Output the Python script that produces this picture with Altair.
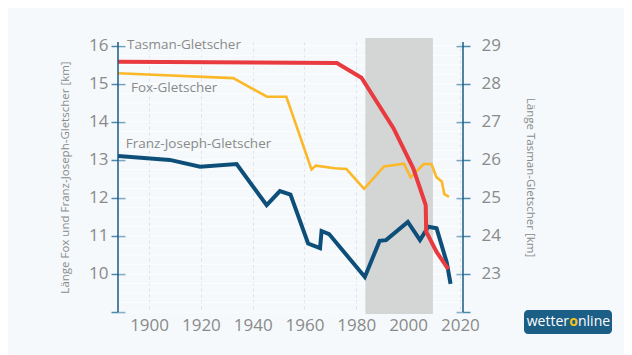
import altair as alt
import pandas as pd

# ---- data ----
tasman_years = [1888, 1972.5, 1982, 1994.3, 2002, 2006.8, 2007.0, 2011, 2015.5]
tasman_km = [28.58, 28.55, 28.16, 26.84, 25.78, 24.81, 24.11, 23.58, 23.13]

fox_years = [1888, 1932.5, 1945.5, 1953, 1962.7, 1964.4, 1971.7, 1976.2, 1983, 1990.7,
             1998.4, 2001, 2006, 2009, 2011, 2013, 2014, 2015.8]
fox_km = [15.28, 15.15, 14.66, 14.66, 12.75, 12.85, 12.78, 12.76, 12.24, 12.83,
          12.9, 12.54, 12.89, 12.89, 12.54, 12.43, 12.1, 12.03]

franz_years = [1888, 1908, 1919.7, 1933.8, 1945.4, 1950.5, 1954.6, 1961.4, 1966, 1966.6,
               1969.5, 1983.3, 1989, 1991.5, 1999.9, 2004.6, 2007.8, 2011, 2014.9, 2016.4]
franz_km = [13.1, 13.0, 12.82, 12.89, 11.81, 12.18, 12.09, 10.8, 10.68, 11.13,
            11.05, 9.92, 10.87, 10.89, 11.37, 10.89, 11.24, 11.2, 10.31, 9.74]

shade_start, shade_end = 1983.5, 2009.6

label_names = ["Tasman-Gletscher", "Fox-Gletscher", "Franz-Joseph-Gletscher"]
label_years = [1891.5, 1893, 1891]
label_km = [16.03, 14.89, 13.43]

x_ticks = [1900, 1920, 1940, 1960, 1980, 2000, 2020]
left_ticks = [9, 10, 11, 12, 13, 14, 15, 16]
right_ticks = [22, 23, 24, 25, 26, 27, 28, 29]

W, H = 345, 270
GRAY = "#8a8a8a"
AXISBLUE = "#1d5a82"
TICKBLUE = "#4a88ad"
FONT = "Open Sans"

xscale = alt.Scale(domain=[1888, 2021.2], nice=False, zero=False)
yl_scale = alt.Scale(domain=[9, 16.1], nice=False, zero=False)
yr_scale = alt.Scale(domain=[22, 29.1], nice=False, zero=False)

x_axis = alt.Axis(values=x_ticks, format="d", domain=False, ticks=False,
                  labelFontSize=17, labelColor=GRAY, labelPadding=5, labelFont=FONT,
                  grid=True, gridColor="#dce1ec", gridDash=[3, 3], gridWidth=1, title=None)

left_axis = alt.Axis(values=left_ticks, labelExpr="datum.value == 9 ? '' : datum.label",
                     offset=-7, tickSize=14, domain=False, grid=False,
                     labelColor=GRAY, labelFontSize=17, labelPadding=3, labelFont=FONT,
                     tickColor=TICKBLUE, tickWidth=1.5,
                     title="Länge Fox und Franz-Joseph-Gletscher [km]",
                     titleColor=GRAY, titleFontSize=11.5, titleFontWeight="normal",
                     titleFont=FONT, titlePadding=18)

right_axis = alt.Axis(values=right_ticks, labelExpr="datum.value == 22 ? '' : datum.label",
                      offset=-7, tickSize=14, domain=False, grid=False, orient="right",
                      labelColor=GRAY, labelFontSize=17, labelPadding=11, labelFont=FONT,
                      tickColor=TICKBLUE, tickWidth=1.5,
                      title="Länge Tasman-Gletscher [km]",
                      titleColor=GRAY, titleFontSize=11.5, titleFontWeight="normal",
                      titleFont=FONT, titlePadding=24)

X = lambda f: alt.X(f, type="quantitative", scale=xscale, axis=x_axis)
YL = lambda f: alt.Y(f, type="quantitative", scale=yl_scale, axis=left_axis)
YR = lambda f: alt.Y(f, type="quantitative", scale=yr_scale, axis=right_axis)

one = pd.DataFrame({"a": [0]})

hgrid_vals = [9 + 0.25 * i for i in range(29)]
hgrid = alt.Chart(pd.DataFrame({"v": hgrid_vals})).mark_rule(
    color="#ffffff", strokeWidth=1, opacity=0.7).encode(x=X("v0:Q") if False else alt.value(0),
                                                        x2=alt.value(W), y=YL("v"))

shade = alt.Chart(pd.DataFrame({"s": [shade_start], "e": [shade_end]})).mark_rect(
    color="#d4d5d5").encode(x=X("s"), x2="e", y=alt.value(-4), y2=alt.value(H + 2))

fox_df = pd.DataFrame({"year": fox_years, "km": fox_km})
fox = alt.Chart(fox_df).mark_line(color="#fbb829", strokeWidth=2.6).encode(
    x=X("year"), y=YL("km"))

franz_df = pd.DataFrame({"year": franz_years, "km": franz_km})
franz = alt.Chart(franz_df).mark_line(color="#0e4f7a", strokeWidth=4).encode(
    x=X("year"), y=YL("km"))

labels_df = pd.DataFrame({"name": label_names, "year": label_years, "km": label_km})
labels = alt.Chart(labels_df).mark_text(
    align="left", baseline="middle", fontSize=13.5, color=GRAY, font=FONT).encode(
    x=X("year"), y=YL("km"), text="name:N")

vline_left = alt.Chart(one).mark_rule(color=AXISBLUE, strokeWidth=1.5).encode(
    x=alt.value(0), y=alt.value(0), y2=alt.value(H))
vline_right = alt.Chart(one).mark_rule(color=AXISBLUE, strokeWidth=1.5).encode(
    x=alt.value(W), y=alt.value(0), y2=alt.value(H))

logo_box = alt.Chart(one).mark_rect(color="#1b5e86", cornerRadius=4).encode(
    x=alt.value(406), x2=alt.value(494), y=alt.value(268), y2=alt.value(292))
logo_a = alt.Chart(one).mark_text(align="right", baseline="middle", fontSize=14,
                                   color="white", font=FONT).encode(
    x=alt.value(451), y=alt.value(280), text=alt.value("wetter"))
logo_o = alt.Chart(one).mark_text(align="center", baseline="middle", fontSize=14,
                                   color="#f5c218", font=FONT, fontWeight="bold").encode(
    x=alt.value(455.5), y=alt.value(280), text=alt.value("o"))
logo_b = alt.Chart(one).mark_text(align="left", baseline="middle", fontSize=14,
                                   color="white", font=FONT).encode(
    x=alt.value(460), y=alt.value(280), text=alt.value("nline"))

left_group = alt.layer(hgrid, shade, fox, franz, labels)

tasman_df = pd.DataFrame({"year": tasman_years, "km": tasman_km})
tasman = alt.Chart(tasman_df).mark_line(color="#e83a3f", strokeWidth=4).encode(
    x=X("year"), y=YR("km"))

deco = alt.layer(vline_left, vline_right, logo_box, logo_a, logo_o, logo_b)

chart = alt.layer(left_group, tasman, deco).resolve_scale(y="independent").properties(
    width=W, height=H,
    padding={"left": 110, "top": 34, "right": 161, "bottom": 43},
    autosize=alt.AutoSizeParams(type="none"),
    background="#f5f9fb",
).configure_view(stroke=None, fill="#f5f9fb")

chart.save("out.html", embed_options={"renderer": "svg", "actions": False})
